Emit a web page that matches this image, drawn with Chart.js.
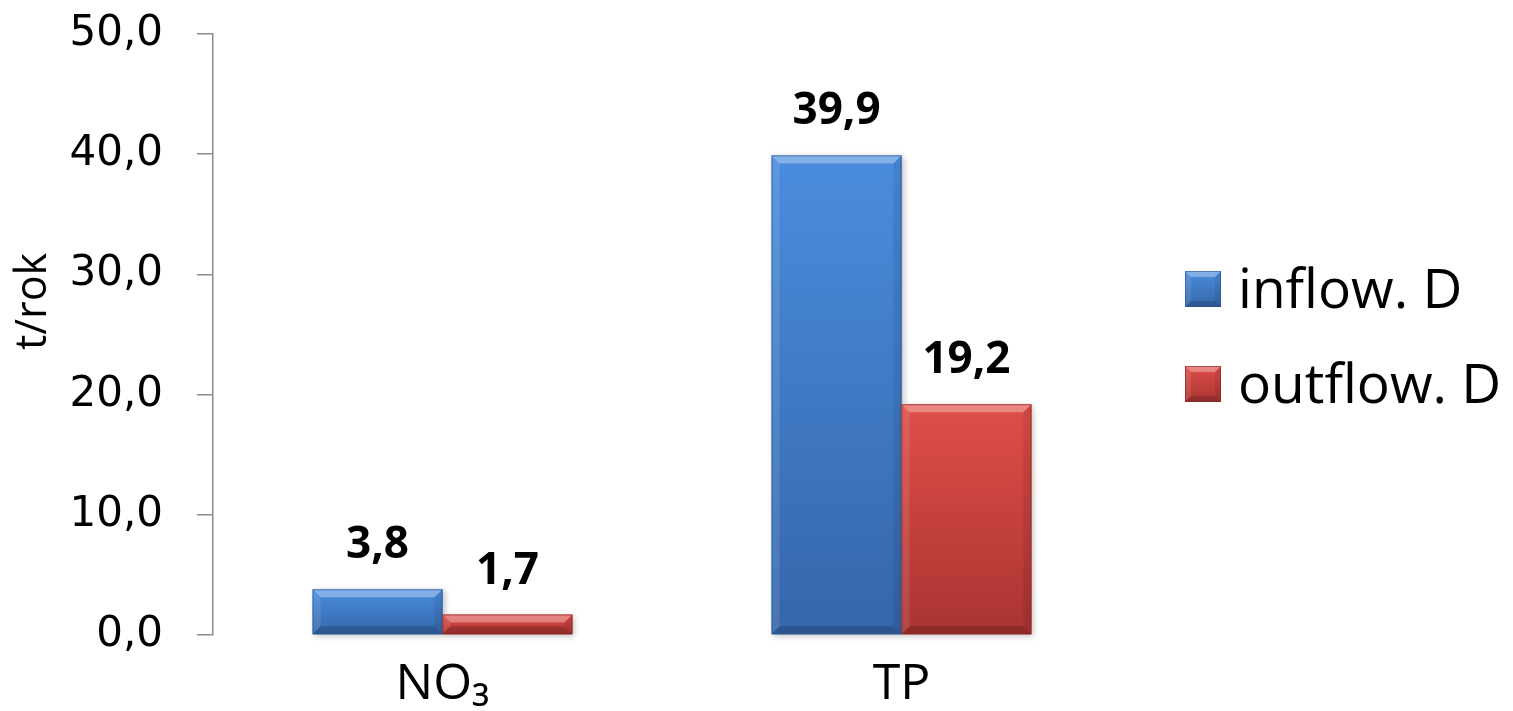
<!DOCTYPE html>
<html lang="cs">
<head>
<meta charset="utf-8">
<title>t/rok</title>
<script src="https://cdn.jsdelivr.net/npm/chart.js@4.4.1/dist/chart.umd.min.js"></script>
<style>
  html, body { margin: 0; padding: 0; background: #fff; }
  #chartLoads { display: block; }
</style>
</head>
<body>
<canvas id="chartLoads" width="1513" height="711"></canvas>
<script>
const categories = ["NO₃", "TP"];
const seriesNames = ["inflow. D", "outflow. D"];
const inflowValues = [3.8, 39.9];
const outflowValues = [1.7, 19.2];
const yTickLabels = ["0,0", "10,0", "20,0", "30,0", "40,0", "50,0"];
const yTitle = "t/rok";

// face gradient + edge colour for each series
const palettes = [
  { top: "#4a8ddd", bottom: "#3566aa", edge: "#2a5590" },
  { top: "#e04e49", bottom: "#a93432", edge: "#862523" },
];

function fmt(v) {
  return v.toFixed(1).replace(".", ",");
}

function poly(ctx, pts, color) {
  ctx.beginPath();
  ctx.moveTo(pts[0][0], pts[0][1]);
  for (let k = 1; k < pts.length; k++) ctx.lineTo(pts[k][0], pts[k][1]);
  ctx.closePath();
  ctx.fillStyle = color;
  ctx.fill();
}

function bevelBox(ctx, l, t, r, b, p, size, shadow) {
  const bev = Math.min(size, (b - t) / 2, (r - l) / 2);
  ctx.save();
  if (shadow) {
    ctx.shadowColor = "rgba(0,0,0,0.25)";
    ctx.shadowBlur = 6;
    ctx.shadowOffsetX = 2;
    ctx.shadowOffsetY = 2;
  }
  const g = ctx.createLinearGradient(0, t, 0, b);
  g.addColorStop(0, p.top);
  g.addColorStop(1, p.bottom);
  ctx.fillStyle = g;
  ctx.fillRect(l, t, r - l, b - t);
  ctx.restore();

  poly(ctx, [[l, t], [r, t], [r - bev, t + bev], [l + bev, t + bev]], "rgba(255,255,255,0.32)");
  poly(ctx, [[l, t], [l + bev, t + bev], [l + bev, b - bev], [l, b]], "rgba(255,255,255,0.10)");
  poly(ctx, [[r, t], [r, b], [r - bev, b - bev], [r - bev, t + bev]], "rgba(0,0,0,0.08)");
  poly(ctx, [[l, b], [l + bev, b - bev], [r - bev, b - bev], [r, b]], "rgba(0,0,0,0.16)");

  ctx.save();
  ctx.strokeStyle = p.edge;
  ctx.globalAlpha = 0.6;
  ctx.lineWidth = 1;
  ctx.strokeRect(l + 0.5, t + 0.5, r - l - 1, b - t - 1);
  ctx.restore();
}

// repaint every bar with a bevelled face, geometry taken from the bar elements
const bevelBars = {
  id: "bevelBars",
  afterDatasetsDraw(chart) {
    const ctx = chart.ctx;
    chart.data.datasets.forEach((ds, i) => {
      chart.getDatasetMeta(i).data.forEach((bar) => {
        const { x, y, base, width } = bar.getProps(["x", "y", "base", "width"], true);
        bevelBox(ctx, x - width / 2, y, x + width / 2, base, palettes[i], 8, true);
      });
    });
  },
};

const valueLabels = {
  id: "valueLabels",
  afterDatasetsDraw(chart) {
    const ctx = chart.ctx;
    ctx.save();
    ctx.font = "bold 44px 'Open Sans'";
    ctx.fillStyle = "#000";
    ctx.textAlign = "center";
    ctx.textBaseline = "alphabetic";
    chart.data.datasets.forEach((ds, i) => {
      chart.getDatasetMeta(i).data.forEach((bar, j) => {
        ctx.fillText(fmt(ds.data[j]), bar.x, bar.y - 31);
      });
    });
    ctx.restore();
  },
};

// rotated unit label, sitting a little above the middle of the value axis
const unitTitle = {
  id: "unitTitle",
  afterDraw(chart) {
    const ctx = chart.ctx;
    const area = chart.chartArea;
    ctx.save();
    ctx.translate(34, area.top + (area.bottom - area.top) * 0.445);
    ctx.rotate(-Math.PI / 2);
    ctx.font = "43px 'Open Sans'";
    ctx.fillStyle = "#000";
    ctx.textAlign = "center";
    ctx.textBaseline = "middle";
    ctx.fillText(yTitle, 0, 0);
    ctx.restore();
  },
};

const sideLegend = {
  id: "sideLegend",
  afterDraw(chart) {
    const ctx = chart.ctx;
    const area = chart.chartArea;
    const mid = (area.top + area.bottom) / 2 + 2;
    const rowGap = 95;
    const box = 36;
    const x0 = area.right + 54;
    ctx.save();
    ctx.font = "55px 'Open Sans'";
    ctx.textAlign = "left";
    ctx.textBaseline = "alphabetic";
    chart.data.datasets.forEach((ds, i) => {
      const cy = mid + (i - (chart.data.datasets.length - 1) / 2) * rowGap;
      bevelBox(ctx, x0, cy - box / 2, x0 + box, cy + box / 2, palettes[i], 6, false);
      ctx.fillStyle = "#000";
      ctx.fillText(ds.label, x0 + box + 17, cy + 19);
    });
    ctx.restore();
  },
};

function buildChart() {
  const canvas = document.getElementById("chartLoads");
  return new Chart(canvas, {
    type: "bar",
    data: {
      labels: categories,
      datasets: [
        { label: seriesNames[0], data: inflowValues, backgroundColor: palettes[0].top },
        { label: seriesNames[1], data: outflowValues, backgroundColor: palettes[1].top },
      ],
    },
    options: {
      responsive: false,
      animation: false,
      devicePixelRatio: 1,
      categoryPercentage: 0.566,
      barPercentage: 1,
      layout: { padding: { top: 34, right: 382, left: 0, bottom: 0 } },
      plugins: {
        legend: { display: false },
        tooltip: { enabled: false },
      },
      scales: {
        x: {
          grid: { display: false },
          border: { display: false },
          ticks: { font: { family: "'Open Sans'", size: 50 }, color: "#000", padding: 12 },
          afterFit: (s) => { s.height = 76; },
        },
        y: {
          min: 0,
          max: 50,
          ticks: {
            stepSize: 10,
            callback: (v, i) => yTickLabels[i],
            font: { family: "'DejaVu Sans'", size: 42 },
            color: "#000",
            padding: 34,
          },
          grid: { drawOnChartArea: false, drawTicks: true, tickLength: 16, color: "#8c8c8c", lineWidth: 1.5 },
          border: { display: true, color: "#8c8c8c", width: 1.5 },
          title: { display: false },
          afterFit: (s) => {
            s.width = 213;
            s.paddingTop = 0;
            s.paddingBottom = 0;
          },
        },
      },
    },
    plugins: [bevelBars, valueLabels, unitTitle, sideLegend],
  });
}

Promise.all([
  document.fonts.load("50px 'Open Sans'"),
  document.fonts.load("bold 44px 'Open Sans'"),
  document.fonts.load("42px 'DejaVu Sans'"),
]).finally(buildChart);
</script>
</body>
</html>
